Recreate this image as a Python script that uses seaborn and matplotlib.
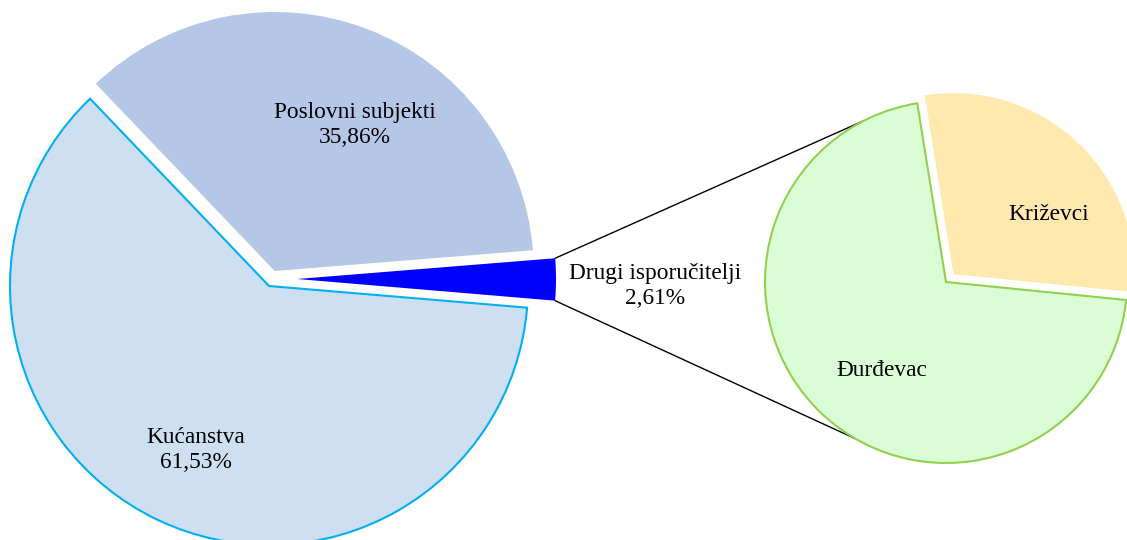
import matplotlib
matplotlib.use('Agg')
import matplotlib.pyplot as plt
import numpy as np
import seaborn as sns

# main pie (shares in %)
main_labels = ['Drugi isporučitelji', 'Poslovni subjekti', 'Kućanstva']
main_values = [2.61, 35.86, 61.53]
main_colors = ['#0000FF', '#B4C7E7', '#CDDFF1']

# breakdown of "Drugi isporučitelji"
sub_labels = ['Križevci', 'Đurđevac']
sub_values = [0.76, 1.85]
sub_colors = ['#FFE9AF', '#DAFDD6']

sns.set_theme(style='white')
plt.rcParams['font.family'] = ['Liberation Serif', 'DejaVu Serif']
plt.rcParams['text.color'] = 'black'

fig = plt.figure(figsize=(11.27, 5.4), dpi=100)
ax = fig.add_axes([0, 0, 1, 1])

main_c = (269, 254)
main_r = 259
sub_c = (946, 258)
sub_r = 181

# explode in pie() is in data units, so scale by the radius
wedges, _ = ax.pie(main_values, colors=main_colors, startangle=-4.8,
                   counterclock=True, center=main_c, radius=main_r,
                   explode=[0.108 * main_r, 0.062 * main_r, 0],
                   wedgeprops=dict(linewidth=0))
# excel shifts the small slice a bit up
wedges[0].set_center((main_c[0] + 28, main_c[1] + 7))
wedges[2].set_edgecolor('#00B0F0')
wedges[2].set_linewidth(1.5)

sw, _ = ax.pie(sub_values, colors=sub_colors, startangle=-5.7,
               center=sub_c, radius=sub_r, explode=[0.06 * sub_r, 0],
               wedgeprops=dict(linewidth=0))
sw[1].set_edgecolor('#92D050')
sw[1].set_linewidth(1.5)

# connector lines from the small slice to the second pie
w = wedges[0]
for th, th2 in [(w.theta2, 116.9), (w.theta1, 240.0)]:
    x0 = w.center[0] + w.r * np.cos(np.radians(th))
    y0 = w.center[1] + w.r * np.sin(np.radians(th))
    x1 = sub_c[0] + sub_r * np.cos(np.radians(th2))
    y1 = sub_c[1] + sub_r * np.sin(np.radians(th2))
    ax.plot([x0, x1], [y0, y1], color='black', lw=1, zorder=0.5)

fs = 16.8
ax.text(355, 540 - 125, 'Poslovni subjekti\n35,86%', ha='center', va='center',
        fontsize=fs, linespacing=1.2)
ax.text(196, 540 - 450, 'Kućanstva\n61,53%', ha='center', va='center',
        fontsize=fs, linespacing=1.2)
ax.text(655, 540 - 286, 'Drugi isporučitelji\n2,61%', ha='center', va='center',
        fontsize=fs, linespacing=1.2)
ax.text(1049, 540 - 215, 'Križevci', ha='center', va='center', fontsize=fs)
ax.text(882, 540 - 370, 'Đurđevac', ha='center', va='center', fontsize=fs)

# pie() resets the limits, so set them last
ax.set_xlim(0, 1127)
ax.set_ylim(0, 540)
ax.set_aspect('equal')
ax.axis('off')

fig.savefig('out.png', dpi=100)
